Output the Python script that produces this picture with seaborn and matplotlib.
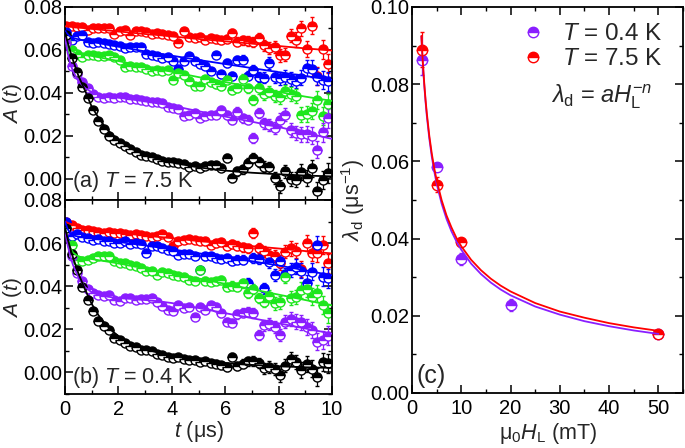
import matplotlib
matplotlib.use("Agg")
import matplotlib.pyplot as plt
import seaborn as sns
from matplotlib.ticker import MultipleLocator
from matplotlib.lines import Line2D

sns.set_theme(style="ticks")
plt.rcParams['font.family'] = ['Liberation Sans', 'DejaVu Sans']
plt.rcParams['mathtext.fontset'] = 'custom'
plt.rcParams['mathtext.rm'] = 'Liberation Sans'
plt.rcParams['mathtext.it'] = 'Liberation Sans:italic'
plt.rcParams['mathtext.bf'] = 'Liberation Sans:bold'

# ---------------- data: time spectra ----------------
t_us = [0.05, 0.25, 0.45, 0.65, 0.85, 1.05, 1.25, 1.45, 1.65, 1.85,
        2.05, 2.25, 2.45, 2.65, 2.85, 3.05, 3.25, 3.45, 3.65, 3.85,
        4.05, 4.25, 4.45, 4.65, 4.85, 5.05, 5.25, 5.45, 5.65, 5.85,
        6.05, 6.25, 6.45, 6.65, 6.85, 7.05, 7.25, 7.45, 7.65, 7.85,
        8.05, 8.25, 8.45, 8.65, 8.85, 9.05, 9.25, 9.45, 9.65, 9.85]

err_t = [0.0003, 0.0003, 0.0003, 0.00035, 0.00035, 0.0004, 0.0004, 0.00045, 0.00045, 0.0005,
         0.00055, 0.0006, 0.0006, 0.00065, 0.0007, 0.00075, 0.0008, 0.00085, 0.0009, 0.00095,
         0.0010, 0.0011, 0.00115, 0.0012, 0.0013, 0.00135, 0.00145, 0.0015, 0.0016, 0.0017,
         0.0018, 0.0019, 0.0020, 0.0021, 0.0022, 0.0023, 0.0024, 0.00255, 0.0027, 0.0028,
         0.00295, 0.0031, 0.00325, 0.0034, 0.00355, 0.0037, 0.0039, 0.00405, 0.00425, 0.00445]

# (a) T = 7.5 K
a_red = [0.0713, 0.0710, 0.0708, 0.0706, 0.0692, 0.0702, 0.0700, 0.0701, 0.0703, 0.0672,
         0.0686, 0.0695, 0.0670, 0.0690, 0.0690, 0.0685, 0.0675, 0.0679, 0.0673, 0.0668,
         0.0665, 0.0633, 0.0686, 0.0660, 0.0655, 0.0662, 0.0648, 0.0656, 0.0649, 0.0645,
         0.0650, 0.0678, 0.0638, 0.0645, 0.0642, 0.0635, 0.0656, 0.0622, 0.0610, 0.0615,
         0.0575, 0.0578, 0.0667, 0.0648, 0.0700, 0.0605, 0.0712, 0.0478, 0.0602, 0.0535]
a_blue = [0.0685, 0.0648, 0.0664, 0.0668, 0.0635, 0.0632, 0.0639, 0.0630, 0.0628, 0.0623,
          0.0616, 0.0608, 0.0615, 0.0614, 0.0612, 0.0580, 0.0575, 0.0572, 0.0562, 0.0565,
          0.0550, 0.0510, 0.0550, 0.0573, 0.0550, 0.0532, 0.0525, 0.0502, 0.0576, 0.0486,
          0.0540, 0.0478, 0.0552, 0.0555, 0.0480, 0.0505, 0.0472, 0.0470, 0.0538, 0.0475,
          0.0468, 0.0473, 0.0465, 0.0455, 0.0470, 0.0515, 0.0512, 0.0475, 0.0460, 0.0453]
a_green = [0.0635, 0.0600, 0.0582, 0.0569, 0.0577, 0.0577, 0.0570, 0.0572, 0.0578, 0.0565,
           0.0552, 0.0522, 0.0526, 0.0520, 0.0521, 0.0512, 0.0502, 0.0508, 0.0500, 0.0505,
           0.0460, 0.0492, 0.0482, 0.0455, 0.0430, 0.0432, 0.0462, 0.0448, 0.0440, 0.0430,
           0.0460, 0.0414, 0.0422, 0.0465, 0.0420, 0.0368, 0.0420, 0.0392, 0.0405, 0.0383,
           0.0378, 0.0406, 0.0395, 0.0385, 0.0298, 0.0302, 0.0315, 0.0367, 0.0290, 0.0348]
a_purple = [0.0630, 0.0525, 0.0488, 0.0450, 0.0420, 0.0395, 0.0380, 0.0375, 0.0382, 0.0376,
            0.0380, 0.0378, 0.0370, 0.0372, 0.0368, 0.0362, 0.0358, 0.0355, 0.0350, 0.0335,
            0.0330, 0.0324, 0.0292, 0.0298, 0.0304, 0.0284, 0.0290, 0.0296, 0.0298, 0.0320,
            0.0295, 0.0274, 0.0312, 0.0282, 0.0275, 0.0190, 0.0306, 0.0258, 0.0250, 0.0238,
            0.0275, 0.0298, 0.0228, 0.0213, 0.0206, 0.0208, 0.0200, 0.0135, 0.0215, 0.0280]
a_black = [0.0670, 0.0560, 0.0495, 0.0425, 0.0375, 0.0320, 0.0270, 0.0230, 0.0198, 0.0180,
           0.0165, 0.0150, 0.0138, 0.0125, 0.0112, 0.0103, 0.0099, 0.0090, 0.0083, 0.0075,
           0.0078, 0.0072, 0.0068, 0.0052, 0.0058, 0.0050, 0.0057, 0.0064, 0.0062, 0.0050,
           0.0096, 0.0003, 0.0034, 0.0044, 0.0073, 0.0098, 0.0078, 0.0055, 0.0052, 0.0003,
           -0.0036, 0.0034, 0.0000, -0.0005, 0.0030, 0.0002, 0.0048, -0.0058, -0.0005, 0.0026]

# (b) T = 0.4 K
b_red = [0.0700, 0.0685, 0.0670, 0.0662, 0.0660, 0.0654, 0.0653, 0.0647, 0.0652, 0.0646,
         0.0647, 0.0644, 0.0639, 0.0642, 0.0638, 0.0635, 0.0630, 0.0632, 0.0640, 0.0630,
         0.0586, 0.0608, 0.0616, 0.0620, 0.0615, 0.0610, 0.0608, 0.0592, 0.0600, 0.0603,
         0.0588, 0.0595, 0.0588, 0.0580, 0.0575, 0.0647, 0.0575, 0.0562, 0.0546, 0.0540,
         0.0507, 0.0560, 0.0575, 0.0565, 0.0480, 0.0600, 0.0555, 0.0555, 0.0592, 0.0507]
b_blue = [0.0700, 0.0633, 0.0640, 0.0630, 0.0624, 0.0615, 0.0618, 0.0610, 0.0610, 0.0602,
          0.0602, 0.0608, 0.0594, 0.0600, 0.0596, 0.0555, 0.0586, 0.0586, 0.0578, 0.0570,
          0.0563, 0.0547, 0.0548, 0.0549, 0.0542, 0.0476, 0.0538, 0.0540, 0.0532, 0.0525,
          0.0532, 0.0518, 0.0523, 0.0522, 0.0415, 0.0530, 0.0528, 0.0390, 0.0512, 0.0453,
          0.0515, 0.0455, 0.0476, 0.0490, 0.0472, 0.0414, 0.0468, 0.0592, 0.0445, 0.0437]
b_green = [0.0668, 0.0590, 0.0522, 0.0518, 0.0522, 0.0530, 0.0538, 0.0540, 0.0540, 0.0516,
           0.0509, 0.0508, 0.0500, 0.0493, 0.0485, 0.0470, 0.0472, 0.0454, 0.0465, 0.0460,
           0.0454, 0.0446, 0.0442, 0.0429, 0.0426, 0.0476, 0.0426, 0.0420, 0.0422, 0.0429,
           0.0398, 0.0403, 0.0396, 0.0414, 0.0367, 0.0386, 0.0344, 0.0329, 0.0355, 0.0320,
           0.0325, 0.0445, 0.0346, 0.0350, 0.0383, 0.0385, 0.0352, 0.0367, 0.0313, 0.0274]
b_purple = [0.0660, 0.0538, 0.0460, 0.0425, 0.0385, 0.0370, 0.0360, 0.0353, 0.0360, 0.0338,
            0.0330, 0.0346, 0.0345, 0.0338, 0.0342, 0.0340, 0.0346, 0.0325, 0.0307, 0.0291,
            0.0284, 0.0315, 0.0298, 0.0305, 0.0259, 0.0304, 0.0292, 0.0313, 0.0305, 0.0274,
            0.0236, 0.0228, 0.0270, 0.0276, 0.0282, 0.0275, 0.0174, 0.0220, 0.0226, 0.0212,
            0.0174, 0.0236, 0.0250, 0.0235, 0.0232, 0.0210, 0.0197, 0.0143, 0.0150, 0.0170]
b_black = [0.0670, 0.0550, 0.0475, 0.0395, 0.0338, 0.0285, 0.0240, 0.0215, 0.0195, 0.0162,
           0.0150, 0.0136, 0.0125, 0.0118, 0.0105, 0.0106, 0.0098, 0.0086, 0.0080, 0.0074,
           0.0068, 0.0072, 0.0063, 0.0060, 0.0056, 0.0050, 0.0054, 0.0045, 0.0040, 0.0033,
           0.0025, 0.0073, 0.0030, 0.0040, 0.0052, 0.0055, 0.0043, 0.0020, 0.0025, 0.0018,
           -0.0014, 0.0032, 0.0062, 0.0048, 0.0012, 0.0038, 0.0018, -0.0020, 0.0048, 0.0042]

# fit curves
t_fit = [0, 0.1, 0.2, 0.3, 0.5, 0.75, 1, 1.25, 1.5, 1.75, 2, 2.5, 3, 3.5, 4, 5, 6, 7, 8, 9, 10]
a_red_fit = [0.0710, 0.0709, 0.0708, 0.0706, 0.0704, 0.0701, 0.0698, 0.0695, 0.0692, 0.0689, 0.0686,
             0.0680, 0.0674, 0.0669, 0.0663, 0.0651, 0.0640, 0.0629, 0.0618, 0.0607, 0.0597]
a_blue_fit = [0.0688, 0.0673, 0.0662, 0.0656, 0.0649, 0.0643, 0.0637, 0.0632, 0.0626, 0.0620, 0.0615,
              0.0604, 0.0593, 0.0583, 0.0573, 0.0553, 0.0534, 0.0515, 0.0496, 0.0478, 0.0460]
a_green_fit = [0.0640, 0.0618, 0.0602, 0.0592, 0.0582, 0.0576, 0.0572, 0.0566, 0.0560, 0.0554, 0.0548,
               0.0535, 0.0523, 0.0510, 0.0498, 0.0473, 0.0450, 0.0426, 0.0404, 0.0382, 0.0362]
a_purple_fit = [0.0660, 0.0585, 0.0535, 0.0500, 0.0455, 0.0422, 0.0403, 0.0393, 0.0386, 0.0381, 0.0377,
                0.0369, 0.0360, 0.0350, 0.0340, 0.0314, 0.0289, 0.0265, 0.0240, 0.0213, 0.0185]
a_black_fit = [0.0680, 0.0635, 0.0592, 0.0552, 0.0480, 0.0410, 0.0335, 0.0285, 0.0240, 0.0206, 0.0178,
               0.0138, 0.0110, 0.0090, 0.0075, 0.0052, 0.0037, 0.0027, 0.0020, 0.0014, 0.0010]
b_red_fit = [0.0700, 0.0694, 0.0689, 0.0685, 0.0678, 0.0672, 0.0666, 0.0661, 0.0657, 0.0653, 0.0649,
             0.0642, 0.0635, 0.0629, 0.0623, 0.0610, 0.0598, 0.0586, 0.0575, 0.0563, 0.0552]
b_blue_fit = [0.0700, 0.0665, 0.0645, 0.0636, 0.0630, 0.0626, 0.0622, 0.0618, 0.0614, 0.0610, 0.0606,
              0.0597, 0.0589, 0.0580, 0.0571, 0.0553, 0.0534, 0.0516, 0.0496, 0.0474, 0.0450]
b_green_fit = [0.0670, 0.0615, 0.0578, 0.0556, 0.0538, 0.0531, 0.0526, 0.0521, 0.0516, 0.0511, 0.0506,
               0.0494, 0.0483, 0.0471, 0.0460, 0.0436, 0.0411, 0.0386, 0.0361, 0.0336, 0.0311]
b_purple_fit = [0.0660, 0.0590, 0.0538, 0.0498, 0.0442, 0.0396, 0.0372, 0.0360, 0.0353, 0.0349, 0.0346,
                0.0341, 0.0336, 0.0330, 0.0322, 0.0299, 0.0275, 0.0252, 0.0228, 0.0204, 0.0180]
b_black_fit = [0.0670, 0.0620, 0.0575, 0.0533, 0.0460, 0.0385, 0.0318, 0.0266, 0.0226, 0.0194, 0.0169,
               0.0133, 0.0109, 0.0091, 0.0077, 0.0057, 0.0044, 0.0035, 0.0029, 0.0024, 0.0021]

# ---------------- data: lambda_d vs field ----------------
H_04 = [2, 5, 10, 20, 50]
lam_04 = [0.0863, 0.0585, 0.0347, 0.0228, 0.0153]
lam_04_err = [0.0038, 0.0010, 0.0015, 0.0015, 0.0008]
H_75 = [2, 5, 10, 50]
lam_75 = [0.0889, 0.0540, 0.0392, 0.0154]
lam_75_err = [0.0045, 0.0020, 0.0010, 0.0012]

H_fit = [1.9, 2, 2.1, 2.2, 2.35, 2.5, 2.75, 3, 3.5, 4, 4.5, 5, 6, 7, 8, 9, 10,
         12, 14, 16, 18, 20, 25, 30, 35, 40, 45, 50]
fit_75 = [0.0925, 0.0900, 0.0877, 0.0855, 0.0826, 0.0799, 0.0759, 0.0725, 0.0667, 0.0621, 0.0583,
          0.0551, 0.0500, 0.0460, 0.0429, 0.0402, 0.0380, 0.0345, 0.0318, 0.0296, 0.0278, 0.0263,
          0.0233, 0.0211, 0.0195, 0.0181, 0.0170, 0.0161]
fit_04 = [0.0924, 0.0898, 0.0874, 0.0852, 0.0822, 0.0794, 0.0754, 0.0718, 0.0660, 0.0613, 0.0575,
          0.0542, 0.0491, 0.0451, 0.0419, 0.0393, 0.0371, 0.0335, 0.0308, 0.0286, 0.0268, 0.0253,
          0.0224, 0.0203, 0.0186, 0.0173, 0.0162, 0.0153]

C_RED = '#ff0000'
C_BLUE = '#0000ff'
C_GREEN = '#1ee61e'
C_PURPLE = '#8a1eff'
C_BLACK = '#000000'

# ---------------- figure ----------------
fig = plt.figure(figsize=(6.85, 4.48), dpi=100)
ax_a = fig.add_axes([0.0949, 0.5536, 0.3898, 0.4308])
ax_b = fig.add_axes([0.0949, 0.1205, 0.3898, 0.4331])
ax_c = fig.add_axes([0.6015, 0.1228, 0.3956, 0.8616])

TICK_FS = 14.5
LABEL_FS = 15.5


def half_marker_series(ax, x, y, yerr, color, ms=6.5):
    ax.errorbar(x, y, yerr=yerr, fmt='o', ms=ms, color=color, mec=color, mfc=color,
                fillstyle='top', markerfacecoloralt='white', mew=1.0,
                ecolor=color, elinewidth=0.9, capsize=1.6, capthick=0.9, zorder=2)


panel_a = [(a_red, a_red_fit, C_RED), (a_blue, a_blue_fit, C_BLUE), (a_green, a_green_fit, C_GREEN),
           (a_purple, a_purple_fit, C_PURPLE), (a_black, a_black_fit, C_BLACK)]
panel_b = [(b_red, b_red_fit, C_RED), (b_blue, b_blue_fit, C_BLUE), (b_green, b_green_fit, C_GREEN),
           (b_purple, b_purple_fit, C_PURPLE), (b_black, b_black_fit, C_BLACK)]

for ax, series in ((ax_a, panel_a), (ax_b, panel_b)):
    for vals, fitvals, col in series:
        half_marker_series(ax, t_us, vals, err_t, col)
        sns.lineplot(x=t_fit, y=fitvals, color=col, lw=1.3, ax=ax, zorder=3)
    ax.set_xlim(0, 10)
    ax.set_ylim(-0.01, 0.08)
    ax.xaxis.set_major_locator(MultipleLocator(2))
    ax.xaxis.set_minor_locator(MultipleLocator(1))
    ax.yaxis.set_minor_locator(MultipleLocator(0.01))
    ax.set_yticks([0.0, 0.02, 0.04, 0.06, 0.08])
    ax.set_yticklabels(['0.00', '0.02', '0.04', '0.06', '0.08'])
    ax.set_ylabel(r'$A$ ($t$)', fontsize=15)
    ax.yaxis.set_label_coords(-0.152, 0.5)

ax_a.tick_params(labelbottom=False)
ax_a.set_xlabel('')
ax_b.set_xlabel(r'$t$ (μs)', fontsize=LABEL_FS, labelpad=0)
ax_b.set_xticks([0, 2, 4, 6, 8, 10])

ax_a.text(0.025, 0.095, r'(a) $T$ = 7.5 K', transform=ax_a.transAxes, fontsize=15.5, va='center', ha='left')
ax_b.text(0.025, 0.085, r'(b) $T$ = 0.4 K', transform=ax_b.transAxes, fontsize=15.5, va='center', ha='left')

# panel (c)
half_marker_series(ax_c, H_04, lam_04, lam_04_err, C_PURPLE, ms=7.5)
half_marker_series(ax_c, H_75, lam_75, lam_75_err, C_RED, ms=7.5)
sns.lineplot(x=H_fit, y=fit_04, color=C_PURPLE, lw=1.3, ax=ax_c, zorder=3)
sns.lineplot(x=H_fit, y=fit_75, color=C_RED, lw=1.3, ax=ax_c, zorder=3)
ax_c.set_xlim(0, 55)
ax_c.set_ylim(0, 0.10)
ax_c.xaxis.set_major_locator(MultipleLocator(10))
ax_c.xaxis.set_minor_locator(MultipleLocator(5))
ax_c.yaxis.set_minor_locator(MultipleLocator(0.01))
ax_c.set_yticks([0.0, 0.02, 0.04, 0.06, 0.08, 0.10])
ax_c.set_yticklabels(['0.00', '0.02', '0.04', '0.06', '0.08', '0.10'])
ax_c.set_xlabel(r'$\mathrm{μ}_0H_\mathrm{L}$ (mT)', fontsize=LABEL_FS, labelpad=2)
ax_c.set_ylabel(r'$\lambda_\mathrm{d}$ (μs$^{-1}$)', fontsize=LABEL_FS)
ax_c.yaxis.set_label_coords(-0.165, 0.5)
ax_c.text(0.018, 0.045, '(c)', transform=ax_c.transAxes, fontsize=18, va='center', ha='left')

handles = [Line2D([], [], ls='none', marker='o', ms=7.5, color=c, mec=c, mfc=c, fillstyle='top',
                  markerfacecoloralt='white', mew=1.0) for c in (C_PURPLE, C_RED)]
ax_c.legend(handles, [r'$T$ = 0.4 K', r'$T$ = 7.5 K'], loc='upper right', bbox_to_anchor=(0.925, 0.958),
            frameon=False, fontsize=17.5, handlelength=1.0, handletextpad=0.7, labelspacing=0.12,
            borderpad=0, borderaxespad=0)
ax_c.text(0.888, 0.767, r'$\lambda_\mathrm{d}$ = $aH_\mathrm{L}^{-n}$', transform=ax_c.transAxes,
          fontsize=17, va='center', ha='right')

for ax in (ax_a, ax_b, ax_c):
    ax.tick_params(which='both', direction='in', top=True, right=True, labelsize=TICK_FS,
                   colors='black')
    ax.tick_params(axis='y', which='both', pad=2)
    ax.tick_params(axis='x', which='both', pad=4.5)
    ax.tick_params(which='major', length=6, width=1.1)
    ax.tick_params(which='minor', length=3, width=1.0)
    for s in ax.spines.values():
        s.set_linewidth(1.3)
        s.set_color('black')
    ax.grid(False)

fig.savefig('out.png', dpi=100)
